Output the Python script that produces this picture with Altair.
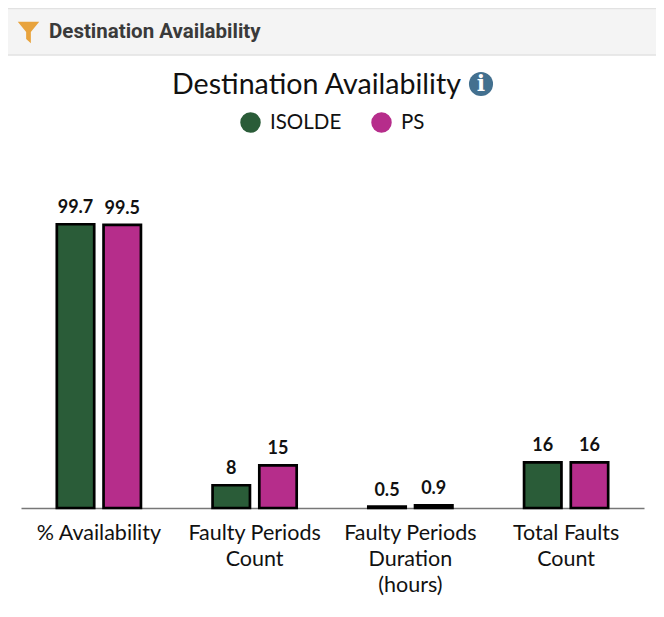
import altair as alt

metrics = ["% Availability", "Faulty Periods|Count", "Faulty Periods|Duration|(hours)", "Total Faults|Count"]
isolde_values = [99.7, 8, 0.5, 16]
ps_values = [99.5, 15, 0.9, 16]
series = ["ISOLDE", "PS"]
colors = ["#2a5c38", "#b62d8b"]
title_text = "Destination Availability"

rows = []
for m, a, b in zip(metrics, isolde_values, ps_values):
    rows.append({"metric": m, "destination": series[0], "value": a})
    rows.append({"metric": m, "destination": series[1], "value": b})

FONT = "Lato"
one = alt.Data(values=[{"k": 1}])

x = alt.X("metric:N", sort=metrics, title=None,
          scale=alt.Scale(paddingInner=0.46, paddingOuter=0.23),
          axis=alt.Axis(labelExpr="split(datum.label, '|')", labelAngle=0, labelFont=FONT, labelFontSize=21.5,
                        labelColor="#111111", labelLineHeight=26, labelPadding=14, ticks=False,
                        domainColor="#777777", domainWidth=1.5, labelLimit=300))
xo = alt.XOffset("destination:N", sort=series, scale=alt.Scale(domain=series, paddingInner=0.2))
y = alt.Y("value:Q", axis=None, scale=alt.Scale(domain=[0, 130]))

bars = alt.Chart(alt.Data(values=rows)).mark_bar(stroke="black", strokeWidth=2.7).encode(
    x=x, xOffset=xo, y=y,
    color=alt.Color("destination:N", sort=series, scale=alt.Scale(domain=series, range=colors),
                    legend=alt.Legend(orient="none", legendX=219, legendY=-26, direction="horizontal", columns=2,
                                      title=None, symbolType="circle", symbolSize=420, symbolStrokeWidth=0,
                                      labelFont=FONT, labelFontSize=20.5, labelColor="#111111", columnPadding=29,
                                      labelOffset=9)),
)
labels = alt.Chart(alt.Data(values=rows)).mark_text(baseline="bottom", dy=-7, font=FONT, fontSize=18,
                                                    fontWeight="bold", color="#111111").encode(
    x=x, xOffset=xo, y=y, text=alt.Text("value:Q"))

header = alt.Chart(one).mark_rect(fill="#f4f4f4", stroke="#e2e2e2", strokeWidth=1.5).encode(
    x=alt.value(-20), x2=alt.value(660), y=alt.value(-129.5), y2=alt.value(-83))
funnel = alt.Chart(one).mark_point(filled=True, opacity=1, fill="#e8a33d", strokeWidth=0, size=460,
                                   shape="M-1,-1 L1,-1 L0.22,-0.05 L0.22,1 L-0.22,0.6 L-0.22,-0.05 Z").encode(
    x=alt.value(7.5), y=alt.value(-105.5))
header_text = alt.Chart(one).mark_text(text=title_text, align="left", baseline="middle", font="Roboto",
                                       fontWeight="bold", fontSize=20.5, color="#3a3a3a").encode(
    x=alt.value(28), y=alt.value(-106))
info_dot = alt.Chart(one).mark_point(filled=True, opacity=1, fill="#43708f", strokeWidth=0, size=580, shape="circle").encode(
    x=alt.value(460), y=alt.value(-54))
info_i = alt.Chart(one).mark_text(text="i", font="DejaVu Serif", fontWeight="bold", fontSize=22, color="white",
                                  baseline="middle").encode(x=alt.value(460), y=alt.value(-54))

chart = alt.layer(header, funnel, header_text, bars, labels, info_dot, info_i).properties(
    width=623, height=370,
    padding={"left": 13, "top": 130, "right": 12, "bottom": 100},
    autosize=alt.AutoSizeParams(type="none"),
    title=alt.TitleParams(title_text, font=FONT, fontSize=28.6, fontWeight="normal", color="#111111",
                          anchor="middle", dx=-16, offset=-92),
).configure_view(stroke=None)

chart.save("out.html", embed_options={"renderer": "svg", "actions": False})
